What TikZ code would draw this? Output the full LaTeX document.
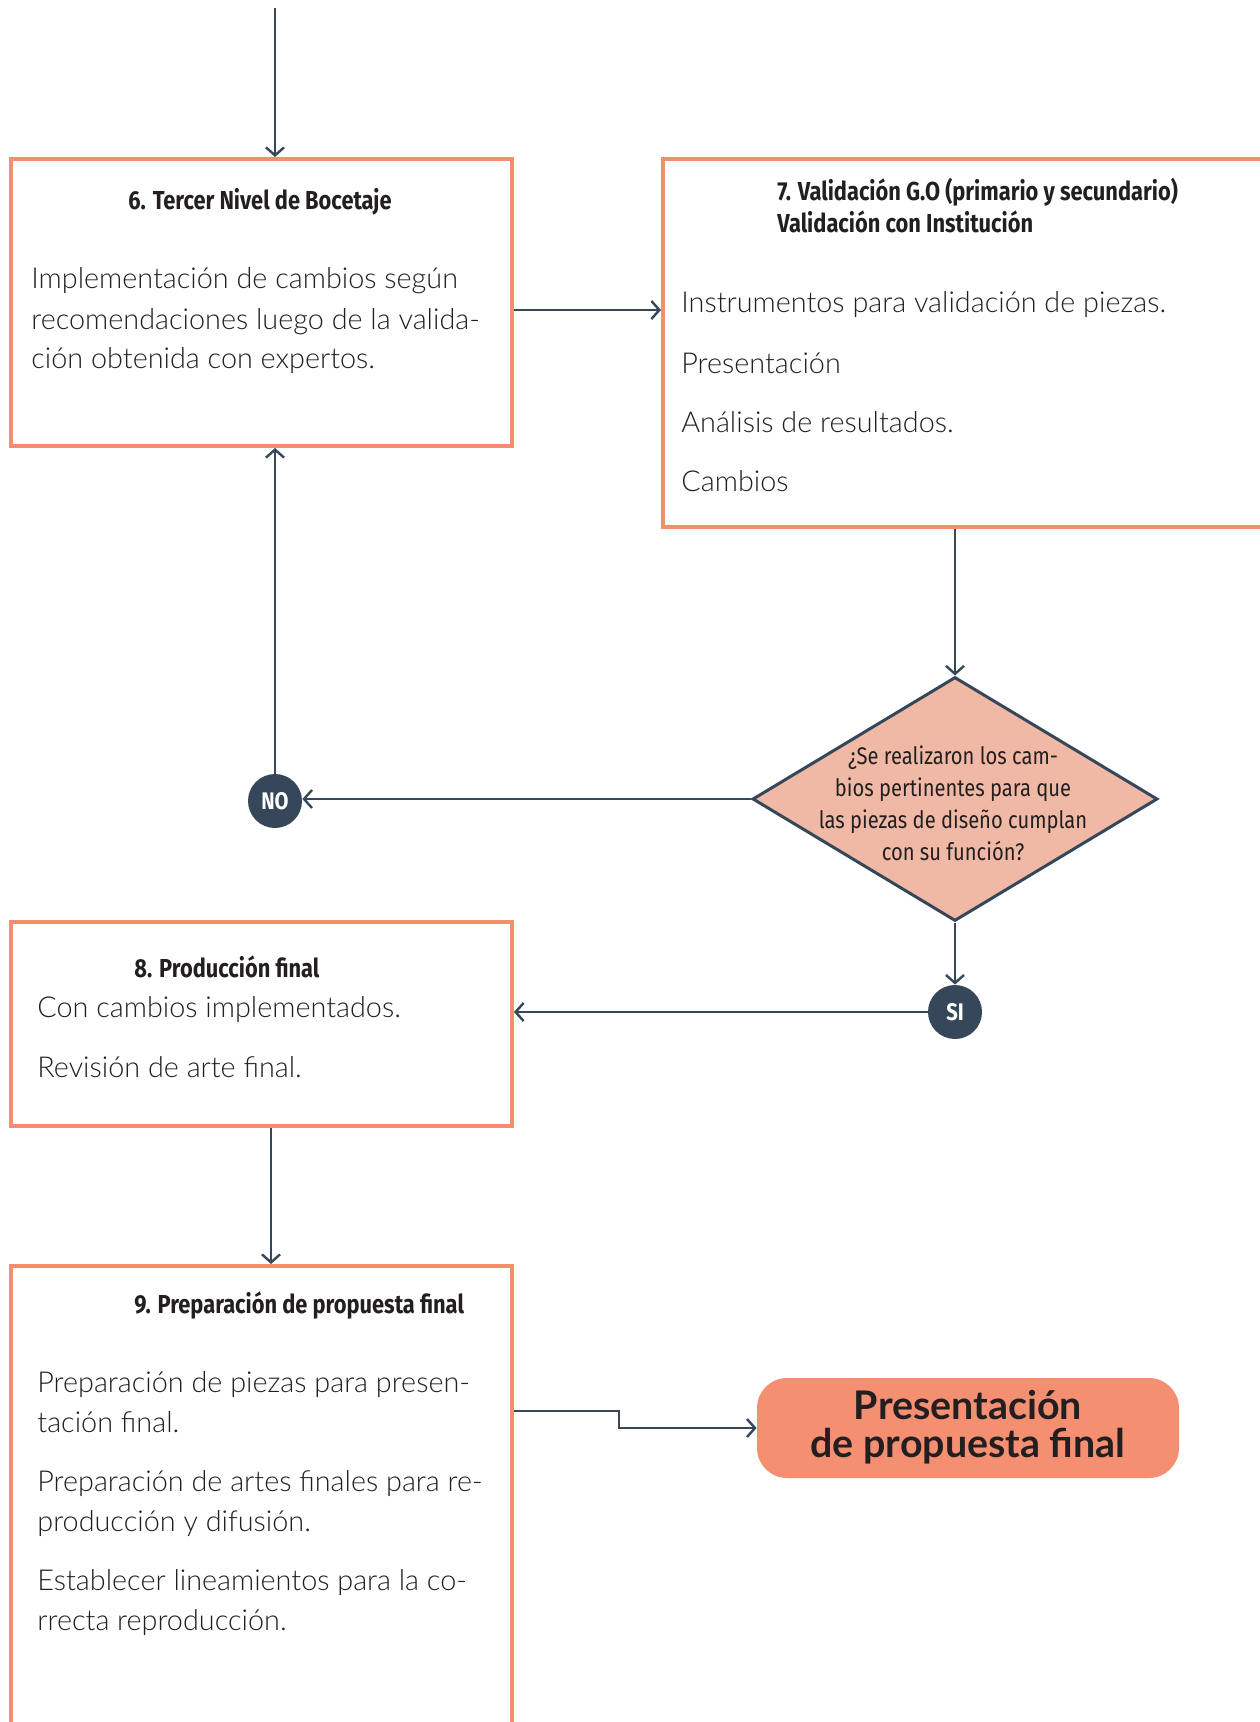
\documentclass[tikz,border=0pt]{standalone}
\usepackage{fontspec}
\setmainfont{Lato}[UprightFont=* Light,BoldFont=* Bold]
\newfontfamily\condb[FakeStretch=0.84]{Fira Sans}
\newfontfamily\condr[FakeStretch=0.84]{Fira Sans}
\usetikzlibrary{arrows.meta,shapes.geometric}
\definecolor{salmon}{RGB}{245,141,111}
\definecolor{slate}{RGB}{54,71,90}
\definecolor{diafill}{RGB}{240,185,166}
\definecolor{presfill}{RGB}{245,143,113}
\definecolor{ink}{RGB}{35,31,32}
\begin{document}
\begin{tikzpicture}[x=0.5pt,y=-0.5pt,
  box/.style={draw=salmon,line width=2pt,fill=white,inner sep=0pt,anchor=north west},
  conn/.style={draw=slate,line width=1.2pt,-{Straight Barb[length=4pt,width=9pt,line width=1.2pt]}},
  body/.style={anchor=base west,inner sep=0pt,text=ink,font=\fontsize{14.4pt}{20pt}\selectfont},
  ttl/.style={anchor=base west,inner sep=0pt,text=ink,font=\condb\bfseries\fontsize{13pt}{16pt}\selectfont},
  qtxt/.style={anchor=base,inner sep=0pt,text=ink,font=\condr\fontsize{12pt}{16pt}\selectfont},
  ptxt/.style={anchor=base,inner sep=0pt,text=ink,font=\bfseries\fontsize{19.7pt}{19pt}\selectfont},
  badge/.style={circle,fill=slate,text=white,minimum size=27pt,inner sep=0pt,font=\condb\bfseries\fontsize{12pt}{14pt}\selectfont}
]
\useasboundingbox[fill=white] (0,0) rectangle (1259,1722);

% boxes
\node[box,minimum width=250.5pt,minimum height=143.5pt] (b6) at (9,157) {};
\node[box,minimum width=329.5pt,minimum height=184pt] (b7) at (661,157) {};
\node[box,minimum width=250.5pt,minimum height=102pt] (b8) at (9,920) {};
\node[box,minimum width=250.5pt,minimum height=250pt] (b9) at (9,1264) {};
\node[diamond,draw=slate,line width=1.5pt,fill=diafill,inner sep=0pt,
      minimum width=202.5pt,minimum height=122pt] (dia) at (955,799) {};
\node[badge] (no) at (275,801) {NO};
\node[badge] (si) at (955,1012) {SI};
\node[fill=presfill,rounded corners=15pt,minimum width=211pt,minimum height=50pt,inner sep=0pt] (pres) at (968,1428) {};

% texts
\node[ttl] (t6) at (128,210) {6. Tercer Nivel de Bocetaje};
\foreach \txt [count=\i] in {Implementación de cambios según,recomendaciones luego de la valida-,ción obtenida con expertos.}
  \node[body] (p6-\i) at (31,{289+40*(\i-1)}) {\txt};
\foreach \txt [count=\i] in {7. Validación G.O (primario y secundario),Validación con Institución}
  \node[ttl] (t7-\i) at (777,{201+32*(\i-1)}) {\txt};
\node[body] (p7a) at (681,313) {Instrumentos para validación de piezas.};
\node[body] (p7b) at (681,373) {Presentación};
\node[body] (p7c) at (681,432) {Análisis de resultados.};
\node[body] (p7d) at (681,491) {Cambios};
\foreach \txt [count=\i] in {¿Se realizaron los cam-,bios pertinentes para que,las piezas de diseño cumplan,con su función?}
  \node[qtxt] (q-\i) at (953,{764+32*(\i-1)}) {\txt};
\node[ttl] (t8) at (134,977) {8. Producción final};
\node[body] (p8a) at (37,1017) {Con cambios implementados.};
\node[body] (p8b) at (37,1077) {Revisión de arte final.};
\node[ttl] (t9) at (134,1313) {9. Preparación de propuesta final};
\foreach \txt [count=\i] in {Preparación de piezas para presen-,tación final.}
  \node[body] (p9a-\i) at (37,{1392+40*(\i-1)}) {\txt};
\foreach \txt [count=\i] in {Preparación de artes finales para re-,producción y difusión.}
  \node[body] (p9b-\i) at (37,{1491+40*(\i-1)}) {\txt};
\foreach \txt [count=\i] in {Establecer lineamientos para la co-,rrecta reproducción.}
  \node[body] (p9c-\i) at (37,{1590+40*(\i-1)}) {\txt};
\foreach \txt [count=\i] in {Presentación,de propuesta final}
  \node[ptxt] (pt-\i) at (968,{1419+38*(\i-1)}) {\txt};

% connectors
\coordinate (topstart) at (275,8);
\draw[conn] (topstart) -- (topstart |- b6.north);
\coordinate (r67) at (0,310);
\draw[conn] (b6.east |- r67) -- (b7.west |- r67);
\draw[conn] (b7.south -| dia.north) -- (dia.north);
\draw[conn] (dia.west) -- (dia.west -| no.east);
\draw[conn] (no.north) -- (no.north |- b6.south);
\draw[conn] (dia.south) -- (si.north);
\draw[conn] (si.west) -- (si.west -| b8.east);
\coordinate (x89) at (271,0);
\draw[conn] (b8.south -| x89) -- (b9.north -| x89);
\coordinate (k1) at (619,1411);
\coordinate (k2) at (619,1428);
\draw[conn] (b9.east |- k1) -- (k1) -- (k2) -- (pres.west);
\end{tikzpicture}
\end{document}
